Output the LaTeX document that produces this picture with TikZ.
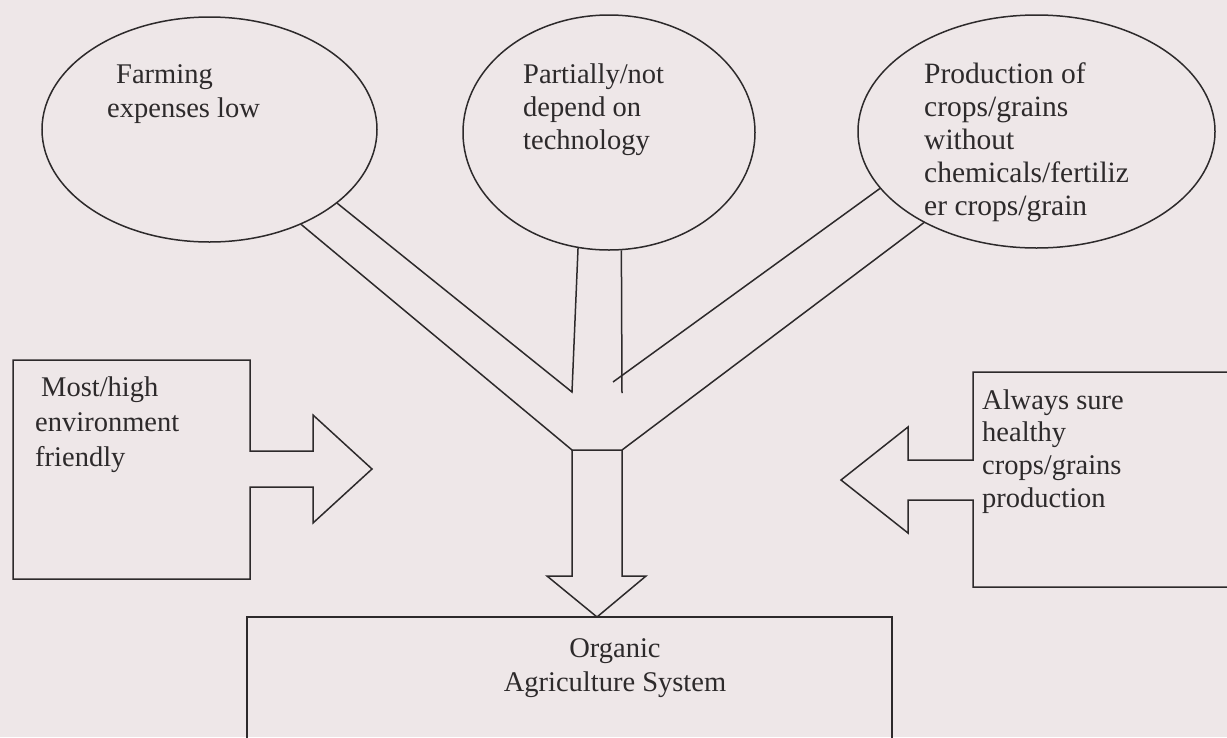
\documentclass[tikz,border=0pt]{standalone}
\usepackage{fontspec}
\setmainfont{Liberation Serif}
\usetikzlibrary{shapes.geometric}
\definecolor{paper}{RGB}{238,231,232}
\definecolor{ink}{RGB}{45,42,43}
\begin{document}
\begin{tikzpicture}[x=1pt,y=-1pt,
  outline/.style={draw=ink, line width=1.5pt, line join=miter},
  bubble/.style={ellipse, draw=ink, line width=1.5pt, inner sep=0pt},
  lbl/.style={anchor=base west, inner sep=0pt, text=ink, font=\fontsize{28.5}{33}\selectfont},
  biglbl/.style={lbl, font=\fontsize{29.5}{33}\selectfont},
  clbl/.style={lbl, anchor=base},
  ]
\fill[paper] (0,0) rectangle (1227,737);
\useasboundingbox (0,0) rectangle (1227,737);
\clip (0,0) rectangle (1227,737);

% the three source bubbles
\node[bubble, minimum width=335pt, minimum height=225pt] (farm) at (209.5,129.5) {};
\node[bubble, minimum width=292pt, minimum height=235pt] (tech) at (609,132.5) {};
\node[bubble, minimum width=357pt, minimum height=233pt] (crop) at (1036.5,131.5) {};

\node[lbl] (farm1) at (116,83) {Farming};
\node[lbl] (farm2) at (107,117) {expenses low};

\node[lbl] (tech1) at (523,83) {Partially/not};
\node[lbl] (tech2) at (523,116) {depend on};
\node[lbl] (tech3) at (523,149) {technology};

\node[biglbl] (crop1) at (924,83) {Production of};
\node[biglbl] (crop2) at (924,116) {crops/grains};
\node[biglbl] (crop3) at (924,149) {without};
\node[biglbl] (crop4) at (924,182) {chemicals/fertiliz};
\node[biglbl] (crop5) at (924,215) {er crops/grain};

% target box
\node[draw=ink, line width=1.5pt, minimum width=645pt, minimum height=173pt, inner sep=0pt] (sys) at (569.5,703.5) {};
\node[clbl] (sys1) at (615,657) {Organic};
\node[clbl] (sys2) at (615,691) {Agriculture System};

% joints of the merging arrow
\coordinate (jl) at (572,450);
\coordinate (jr) at (622,450);
\coordinate (il) at (572,392);
\coordinate (ir) at (613,382);
\coordinate (sr) at (622,393);
\coordinate (tip) at (597,617);

\draw[outline] (farm.314) -- (jl) -- (jr) -- (crop.219);
\draw[outline] (farm.330) -- (il) -- (tech.255);
\draw[outline] (tech.276) -- (sr);
\draw[outline] (crop.200) -- (ir);
\draw[outline] (jl) -- (572,576) -- (547,576) -- (tip) -- (646,576) -- (622,576) -- (jr);

% left box with its right-pointing arrow
\draw[outline] (250,451) -- (250,360) -- (13,360) -- (13,579) -- (250,579) -- (250,487)
  -- (313,487) -- (313,523) -- (372,469) -- (313,415) -- (313,451) -- cycle;
\node[lbl] (env1) at (41,396) {Most/high};
\node[lbl] (env2) at (35,431) {environment};
\node[lbl] (env3) at (35,466) {friendly};

% right box with its left-pointing arrow
\draw[outline] (1240,372) -- (973,372) -- (973,460) -- (908,460) -- (908,427) -- (841,480)
  -- (908,533) -- (908,500) -- (973,500) -- (973,587) -- (1240,587);
\node[lbl] (hlth1) at (982,409) {Always sure};
\node[lbl] (hlth2) at (982,441) {healthy};
\node[lbl] (hlth3) at (982,474) {crops/grains};
\node[lbl] (hlth4) at (982,507) {production};
\end{tikzpicture}
\end{document}
